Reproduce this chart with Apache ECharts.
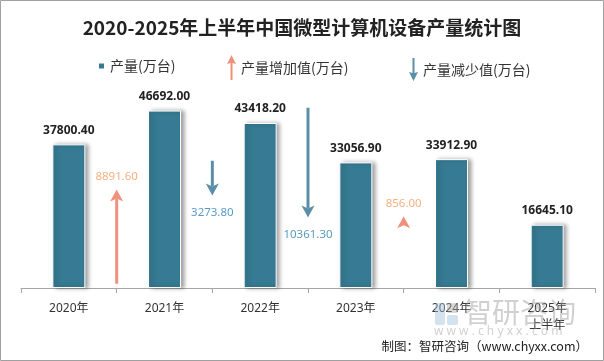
<!DOCTYPE html>
<html>
<head>
<meta charset="utf-8">
<script src="https://cdn.jsdelivr.net/npm/echarts@6/dist/echarts.min.js"></script>
<style>
html,body{margin:0;padding:0;background:#fff;}
#c{width:604px;height:361px;}
</style>
</head>
<body>
<div id="c"></div>
<script>
// ---- data ----
const categories = ['2020年', '2021年', '2022年', '2023年', '2024年', '2025年\n上半年'];
const production = [37800.40, 46692.00, 43418.20, 33056.90, 33912.90, 16645.10];
// change vs previous period, placed between categories (index of later period)
const changeIndex = [1, 2, 3, 4];
const changeValues = [8891.60, -3273.80, -10361.30, 856.00];
// start level of each arrow on the secondary (hidden) change axis
const arrowBase = [400, 12000, 17000, 5900];

const UP_COLOR = '#f0917b', UP_LABEL = '#f5b183';
const DOWN_COLOR = '#5a8fa7', DOWN_LABEL = '#5a9bc3';

const upData = [], downData = [];
changeValues.forEach((v, i) => {
  const row = [changeIndex[i], arrowBase[i], arrowBase[i] + v, v];
  if (v >= 0) upData.push(row); else downData.push(row);
});

function renderArrow(params, api) {
  const idx = api.value(0), base = api.value(1), tip = api.value(2), v = api.value(3);
  const band = api.size([1, 0])[0];
  const p0 = api.coord([idx, base]);
  const p1 = api.coord([idx, tip]);
  const x = p0[0] - band / 2;
  const up = v >= 0;
  const color = up ? UP_COLOR : DOWN_COLOR;
  const dir = up ? -1 : 1; // screen direction from base to tip
  const headLen = 12, headW = 6.5, notch = 3;
  const yTip = p1[1];
  const yHeadBase = yTip - dir * headLen;
  const children = [];
  const lineEnd = yTip - dir * (headLen - notch);
  if ((lineEnd - p0[1]) * dir > 0) {
    children.push({
      type: 'rect',
      shape: { x: x - 1.5, y: Math.min(p0[1], lineEnd), width: 3, height: Math.abs(lineEnd - p0[1]) },
      style: { fill: color }
    });
  }
  children.push({
    type: 'polygon',
    shape: { points: [[x, yTip], [x - headW, yHeadBase], [x, yHeadBase + dir * notch], [x + headW, yHeadBase]] },
    style: { fill: color }
  });
  const labelY = up ? yTip - 13 : yTip + 17;
  children.push({
    type: 'text',
    style: {
      text: Math.abs(v).toFixed(2),
      x: x, y: labelY,
      align: 'center', verticalAlign: 'middle',
      fill: up ? UP_LABEL : DOWN_LABEL,
      font: '11.5px "Noto Sans", sans-serif'
    }
  });
  return { type: 'group', children: children };
}

const chart = echarts.init(document.getElementById('c'), null, { renderer: 'canvas' });
chart.setOption({
  backgroundColor: '#ffffff',
  animation: false,
  title: {
    text: '2020-2025年上半年中国微型计算机设备产量统计图',
    left: 'center', top: 13,
    textStyle: { fontSize: 19, fontWeight: 'bold', color: '#222', fontFamily: '"Noto Sans CJK SC", sans-serif' }
  },
  legend: [
    {
      data: ['产量(万台)'], left: 97, top: 59, padding: 0, icon: 'rect', itemWidth: 7, itemHeight: 7,
      textStyle: { fontSize: 14, color: '#333', fontFamily: '"Noto Sans CJK SC", sans-serif' }
    },
    {
      data: ['产量增加值(万台)'], left: 227, top: 55, padding: 0, itemWidth: 9, itemHeight: 25,
      icon: 'path://M4.5,0 L9,9 L5.5,8 L5.5,25 L3.5,25 L3.5,8 L0,9 Z',
      textStyle: { fontSize: 14, color: '#333', fontFamily: '"Noto Sans CJK SC", sans-serif' }
    },
    {
      data: ['产量减少值(万台)'], left: 409, top: 58, padding: 0, itemWidth: 9, itemHeight: 23,
      icon: 'path://M3.5,0 L5.5,0 L5.5,15 L9,14 L4.5,23 L0,14 L3.5,15 Z',
      textStyle: { fontSize: 14, color: '#333', fontFamily: '"Noto Sans CJK SC", sans-serif' }
    }
  ],
  grid: { left: 21, right: 9, top: 60, bottom: 73, containLabel: false },
  xAxis: {
    type: 'category',
    data: categories,
    axisLine: { lineStyle: { color: '#a6a6a6', width: 1 } },
    axisTick: { show: true, length: 5, lineStyle: { color: '#a6a6a6' } },
    axisLabel: { fontSize: 12, color: '#333', margin: 12, lineHeight: 17, fontFamily: '"Noto Sans", "Noto Sans CJK SC", sans-serif' }
  },
  yAxis: [
    { type: 'value', min: 0, max: 60000, show: false, splitLine: { show: false } },
    { type: 'value', min: 0, max: 21500, show: false, splitLine: { show: false } }
  ],
  series: [
    {
      name: '产量(万台)',
      type: 'bar',
      data: production,
      barWidth: 33,
      itemStyle: {
        color: '#367b93',
        borderColor: '#ffffff', borderWidth: 1,
        shadowColor: 'rgba(0,0,0,0.35)', shadowBlur: 4, shadowOffsetX: 3, shadowOffsetY: 0
      },
      label: {
        show: true, position: 'top', distance: 8,
        formatter: p => p.value.toFixed(2),
        fontSize: 12, fontWeight: 'bold', color: '#222',
        fontFamily: '"Noto Sans", sans-serif'
      }
    },
    {
      name: '产量增加值(万台)', type: 'custom', yAxisIndex: 1,
      itemStyle: { color: UP_COLOR },
      renderItem: renderArrow, data: upData, z: 5
    },
    {
      name: '产量减少值(万台)', type: 'custom', yAxisIndex: 1,
      itemStyle: { color: DOWN_COLOR },
      renderItem: renderArrow, data: downData, z: 5
    }
  ],
  graphic: [
    { type: 'rect', shape: { x: 0.5, y: 0.5, width: 603, height: 360 }, style: { fill: 'none', stroke: '#a0a0a0', lineWidth: 1 }, silent: true },
    // watermark
    { type: 'rect', left: 435, top: 303, shape: { width: 10, height: 22, r: 2 }, style: { fill: 'rgba(160,190,215,0.45)' }, silent: true, z: 50 },
    { type: 'rect', left: 447, top: 303, shape: { width: 11, height: 10, r: 2 }, style: { fill: 'rgba(170,170,170,0.45)' }, silent: true, z: 50 },
    { type: 'rect', left: 447, top: 315, shape: { width: 11, height: 10, r: 2 }, style: { fill: 'rgba(160,190,215,0.45)' }, silent: true, z: 50 },
    { type: 'text', left: 464, top: 298, style: { text: '智研咨询', fill: 'rgba(150,150,150,0.45)', font: '28px "Noto Sans CJK SC", sans-serif' }, silent: true, z: 50 },
    { type: 'text', left: 434, top: 326, style: { text: 'w w w . c h y x x . c o m', fill: 'rgba(150,150,150,0.45)', font: '12px "Noto Sans", sans-serif' }, silent: true, z: 50 },
    { type: 'text', right: 16, top: 340, style: { text: '制图：智研咨询（www.chyxx.com）', fill: '#222', font: '12.5px "Noto Sans CJK SC", sans-serif' }, silent: true, z: 60 }
  ]
});
</script>
</body>
</html>
